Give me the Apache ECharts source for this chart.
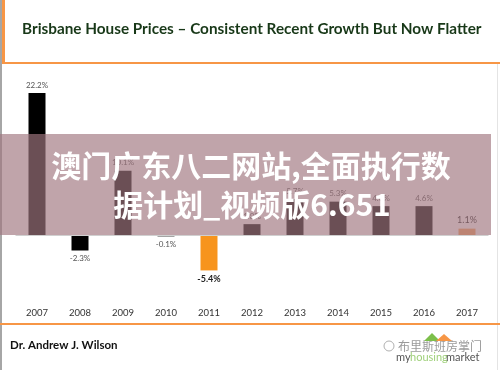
<!DOCTYPE html>
<html><head><meta charset="utf-8">
<script src="https://cdn.jsdelivr.net/npm/echarts@6/dist/echarts.min.js"></script>
<style>html,body{margin:0;padding:0;background:#fff}#c{width:500px;height:370px}</style>
</head><body><div id="c"></div>
<script>
var years = ['2007','2008','2009','2010','2011','2012','2013','2014','2015','2016','2017'];
var growth = [22.2, -2.3, 10.1, -0.1, -5.4, 1.8, 5.7, 5.3, 4.6, 4.6, 1.1];
var titleText = 'Brisbane House Prices \u2013 Consistent Recent Growth But Now Flatter';
var authorText = 'Dr. Andrew J. Wilson';
var overlayLines = ['澳门广东八二网站,全面执行数', '据计划_视频版6.651'];

var chart = echarts.init(document.getElementById('c'), null, {renderer: 'canvas'});

function barColor(y) {
  if (y === '2011') return '#F7941D';
  if (y === '2017') return '#F5A05A';
  return '#000000';
}
var seriesData = growth.map(function (v, i) {
  var y = years[i];
  var strong = (y === '2011' || y === '2017');
  return {
    value: v,
    itemStyle: {color: barColor(y)},
    label: {
      show: true,
      position: v >= 0 ? 'top' : 'bottom',
      distance: 4,
      formatter: function (p) { return p.value.toFixed(1) + '%'; },
      fontFamily: 'Lato, "Liberation Sans", sans-serif',
      fontSize: strong ? 9 : 8,
      fontWeight: (y === '2011') ? 'bold' : 'normal',
      color: strong ? '#222' : '#555'
    }
  };
});

chart.setOption({
  animation: false,
  backgroundColor: '#ffffff',
  grid: {left: 15.5, right: 11.5, top: 75, bottom: 70},
  xAxis: {
    type: 'category',
    data: years,
    axisLine: {show: false, onZero: false},
    axisTick: {show: false},
    axisLabel: {color: '#333', fontSize: 9.5, fontFamily: 'Lato, "Liberation Sans", sans-serif', margin: 8}
  },
  yAxis: {
    type: 'value', min: -10, max: 25,
    show: false,
    splitLine: {show: false}
  },
  series: [{
    type: 'bar',
    data: seriesData,
    barWidth: 17,
    markLine: {
      silent: true, symbol: 'none', label: {show: false},
      lineStyle: {color: '#d0d0d0', type: 'solid', width: 1},
      data: [{yAxis: 0}]
    }
  }],
  graphic: [
    {type: 'rect', shape: {x: 0, y: 0, width: 2, height: 370}, style: {fill: '#a6a6a6'}, z: 10},
    {type: 'rect', shape: {x: 497, y: 64, width: 1, height: 306}, style: {fill: '#e4e4e4'}, z: 10},
    {type: 'rect', shape: {x: 2, y: 0, width: 3, height: 64}, style: {fill: '#F79646'}, z: 10},
    {type: 'rect', shape: {x: 2, y: 62, width: 498, height: 2}, style: {fill: '#F79646'}, z: 10},
    {type: 'text', left: 22, top: 22, style: {text: titleText, fill: '#183818', font: 'bold 15.3px Lato, "Liberation Sans", sans-serif'}, z: 10},
    {type: 'rect', shape: {x: 0, y: 323, width: 500, height: 2}, style: {fill: '#F79646'}, z: 10},
    {type: 'text', left: 10, top: 339, style: {text: authorText, fill: '#111', font: 'bold 11.5px Lato, "Liberation Sans", sans-serif'}, z: 10},
    {type: 'text', left: 398, top: 340, style: {text: '布里斯班房掌门', fill: '#9a9a9a', font: '12px "Noto Sans CJK SC", sans-serif'}, z: 10},
    {type: 'circle', shape: {cx: 389, cy: 346, r: 5}, style: {fill: 'none', stroke: '#b0b0b0', lineWidth: 1}, z: 10},
    {type: 'text', left: 396, top: 352, style: {text: 'my', fill: '#555', font: '11px Lato, sans-serif'}, z: 10},
    {type: 'text', left: 410, top: 352, style: {text: 'housing', fill: '#9fd07a', font: '11px Lato, sans-serif'}, z: 10},
    {type: 'text', left: 446, top: 352, style: {text: 'market', fill: '#555', font: '11px Lato, sans-serif'}, z: 10},
    {type: 'polygon', shape: {points: [[424, 341], [432, 333], [440, 341]]}, style: {fill: '#7cbf4a'}, z: 10},
    {type: 'polygon', shape: {points: [[436, 341], [444, 334], [452, 341]]}, style: {fill: '#F79646'}, z: 10},
    {type: 'rect', shape: {x: 0, y: 134, width: 491, height: 101}, style: {fill: 'rgba(160,118,127,0.667)'}, z: 50},
    {type: 'text', x: 251, y: 166, style: {text: overlayLines[0], fill: '#ffffff', align: 'center', verticalAlign: 'middle', font: 'bold 30px "Noto Sans CJK SC", sans-serif'}, z: 51},
    {type: 'text', x: 252, y: 205, style: {text: overlayLines[1], fill: '#ffffff', align: 'center', verticalAlign: 'middle', font: 'bold 30px "Noto Sans CJK SC", sans-serif'}, z: 51}
  ]
});
</script></body></html>
